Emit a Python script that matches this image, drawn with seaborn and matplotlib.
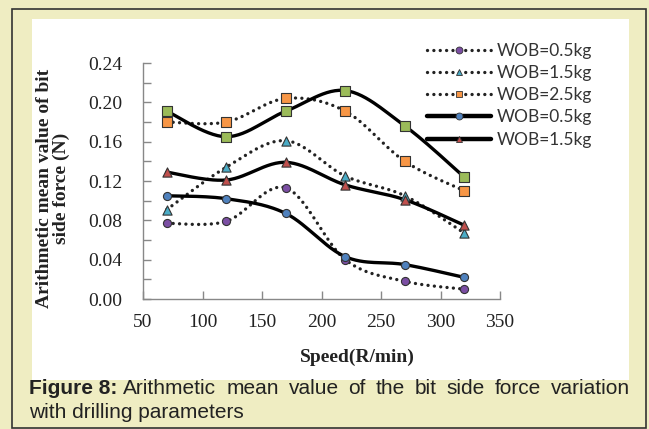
import numpy as np
import pandas as pd
import matplotlib
matplotlib.use("Agg")
import matplotlib.pyplot as plt
from matplotlib.patches import Rectangle
import seaborn as sns

speed = [70, 120, 170, 220, 270, 320]
dot_wob05 = [0.077, 0.079, 0.113, 0.040, 0.018, 0.010]
dot_wob15 = [0.091, 0.134, 0.161, 0.125, 0.105, 0.067]
dot_wob25 = [0.180, 0.180, 0.204, 0.191, 0.140, 0.110]
sol_wob05 = [0.105, 0.102, 0.087, 0.043, 0.035, 0.022]
sol_wob15 = [0.129, 0.121, 0.139, 0.116, 0.101, 0.075]
sol_wob25 = [0.191, 0.165, 0.191, 0.212, 0.176, 0.124]
x_ticks = [50, 100, 150, 200, 250, 300, 350]
y_ticks = [0.00, 0.04, 0.08, 0.12, 0.16, 0.20, 0.24]
caption_line1 = "Arithmetic mean value of the bit side force variation"
caption_line2 = "with drilling parameters"


def smooth(xs, ys, n=30):
    x = np.asarray(xs, float)
    y = np.asarray(ys, float)
    px = np.concatenate([[x[0]], x, [x[-1]]])
    py = np.concatenate([[y[0]], y, [y[-1]]])
    ox, oy = [], []
    t = np.linspace(0, 1, n)
    for i in range(1, len(px) - 2):
        p0 = np.array([px[i], py[i]])
        p3 = np.array([px[i + 1], py[i + 1]])
        p1 = p0 + (np.array([px[i + 1], py[i + 1]]) - np.array([px[i - 1], py[i - 1]])) / 6
        p2 = p3 - (np.array([px[i + 2], py[i + 2]]) - np.array([px[i], py[i]])) / 6
        b = ((1 - t) ** 3)[:, None] * p0 + (3 * (1 - t) ** 2 * t)[:, None] * p1 \
            + (3 * (1 - t) * t ** 2)[:, None] * p2 + (t ** 3)[:, None] * p3
        ox.extend(b[:, 0]); oy.extend(b[:, 1])
    return np.array(ox), np.array(oy)


sns.set_theme(style="white")
plt.rcParams["font.family"] = ["DejaVu Sans"]

W, H = 649, 429
fig = plt.figure(figsize=(6.49, 4.29), dpi=100)
fig.patch.set_facecolor("#EFEDC2")
fig.patches.append(Rectangle((12 / W, 1 - 428 / H), 634 / W, 419 / H,
                             transform=fig.transFigure, fill=False,
                             edgecolor="#333333", linewidth=1.2, zorder=-10))
fig.patches.append(Rectangle((32 / W, 1 - 380 / H), 597 / W, 361 / H,
                             transform=fig.transFigure, facecolor="white",
                             edgecolor="none", zorder=-10))

ax = fig.add_axes([143 / W, 1 - 299 / H, 357 / W, 236 / H])
ax.set_facecolor("none")

DOT = (0, (0.01, 1.9))
series = [
    (dot_wob05, ":", "o", "#7B4EA3", "WOB=0.5kg", True),
    (dot_wob15, ":", "^", "#4BACC6", "WOB=1.5kg", True),
    (dot_wob25, ":", "s", "#F79646", "WOB=2.5kg", True),
    (sol_wob05, "-", "o", "#4F81BD", "WOB=0.5kg", True),
    (sol_wob15, "-", "^", "#C0504D", "WOB=1.5kg", True),
    (sol_wob25, "-", "s", "#9BBB59", "_nolegend_", False),
]

handles = []
for ys, ls, mk, col, lab, inleg in series:
    sx, sy = smooth(speed, ys)
    df = pd.DataFrame({"x": sx, "y": sy})
    if ls == ":":
        sns.lineplot(data=df, x="x", y="y", ax=ax, sort=False, color="#222222",
                     linewidth=2.4, linestyle=DOT, dash_capstyle="round")
    else:
        sns.lineplot(data=df, x="x", y="y", ax=ax, sort=False, color="black",
                     linewidth=2.4)
    pts = pd.DataFrame({"x": speed, "y": ys})
    sns.scatterplot(data=pts, x="x", y="y", ax=ax, marker=mk, color=col,
                    s=44 if mk != "o" else 34, edgecolor="#333333",
                    linewidth=0.8, zorder=5)
    if inleg:
        h, = ax.plot([], [], color="#222222" if ls == ":" else "black",
                     linestyle=DOT if ls == ":" else "-",
                     linewidth=2.4 if ls == ":" else 3.2,
                     dash_capstyle="round",
                     marker=mk, markersize=5, markerfacecolor=col,
                     markeredgecolor="#333333", markeredgewidth=0.6)
        handles.append((h, lab))

ax.set_xlim(50, 350)
ax.set_ylim(0, 0.24)
ax.set_xlabel("")
ax.set_ylabel("")
for s in ["top", "right"]:
    ax.spines[s].set_visible(False)
for s in ["left", "bottom"]:
    ax.spines[s].set_color("#888888")
    ax.spines[s].set_linewidth(1.0)
ax.tick_params(axis="both", which="major", direction="in", length=6,
               color="#888888", width=1, bottom=True, left=True,
               labelsize=14, labelcolor="#222222")
ax.tick_params(axis="y", which="major", pad=15)
ax.tick_params(axis="x", which="major", pad=11)
ax.set_yticks([0.02, 0.06, 0.10, 0.14, 0.18, 0.22], minor=True)
ax.tick_params(axis="y", which="minor", direction="in", length=6,
               color="#888888", width=1, left=True)
ax.set_xticks(x_ticks)
ax.set_yticks(y_ticks)
ax.set_xticklabels([str(v) for v in x_ticks], fontfamily="Liberation Serif",
                   fontsize=14, color="#222222")
ax.set_yticklabels([f"{v:.2f}" for v in y_ticks], fontfamily="Liberation Serif",
                   fontsize=14, color="#222222")
ax.grid(False)

fig.text(357 / W, 1 - 357 / H, "Speed(R/min)", fontfamily="Liberation Serif",
         fontweight="bold", fontsize=14, ha="center", va="center", color="#222222")
fig.text(53 / W, 1 - 188 / H, "Arithmetic mean value of bit\nside force (N)",
         fontfamily="Liberation Serif", fontweight="bold", fontsize=14,
         rotation=90, ha="center", va="center", linespacing=0.95, color="#222222")

leg = fig.legend([h for h, _ in handles], [l for _, l in handles], loc="upper left",
                 bbox_to_anchor=(411 / W, 1 - 27 / H), frameon=False,
                 handlelength=3.7, handletextpad=0.35, labelspacing=0.36,
                 prop={"family": "Lato", "size": 12.5})
for t in leg.get_texts():
    t.set_color("#333333")

# caption, first line justified
CAP = 15
renderer = fig.canvas.get_renderer()
y1 = 1 - 389 / H
t0 = fig.text(29 / W, y1, "Figure 8:", fontfamily="Liberation Sans",
              fontweight="bold", fontsize=CAP, ha="left", va="center", color="#222222")
x_left = t0.get_window_extent(renderer).x1 + 6
x_right = 630
words = caption_line1.split(" ")
wt = []
for w in words:
    tt = fig.text(0, y1, w, fontfamily="Liberation Sans", fontsize=CAP,
                  ha="left", va="center", color="#222222")
    wt.append((tt, tt.get_window_extent(renderer).width))
total = sum(w for _, w in wt)
gap = (x_right - x_left - total) / (len(wt) - 1)
xc = x_left
for tt, w in wt:
    tt.set_x(xc / W)
    xc += w + gap
fig.text(29 / W, 1 - 412 / H, caption_line2,
         fontfamily="Liberation Sans", fontsize=CAP, ha="left", va="center",
         color="#222222")

fig.savefig("out.png", dpi=100, facecolor=fig.get_facecolor())
